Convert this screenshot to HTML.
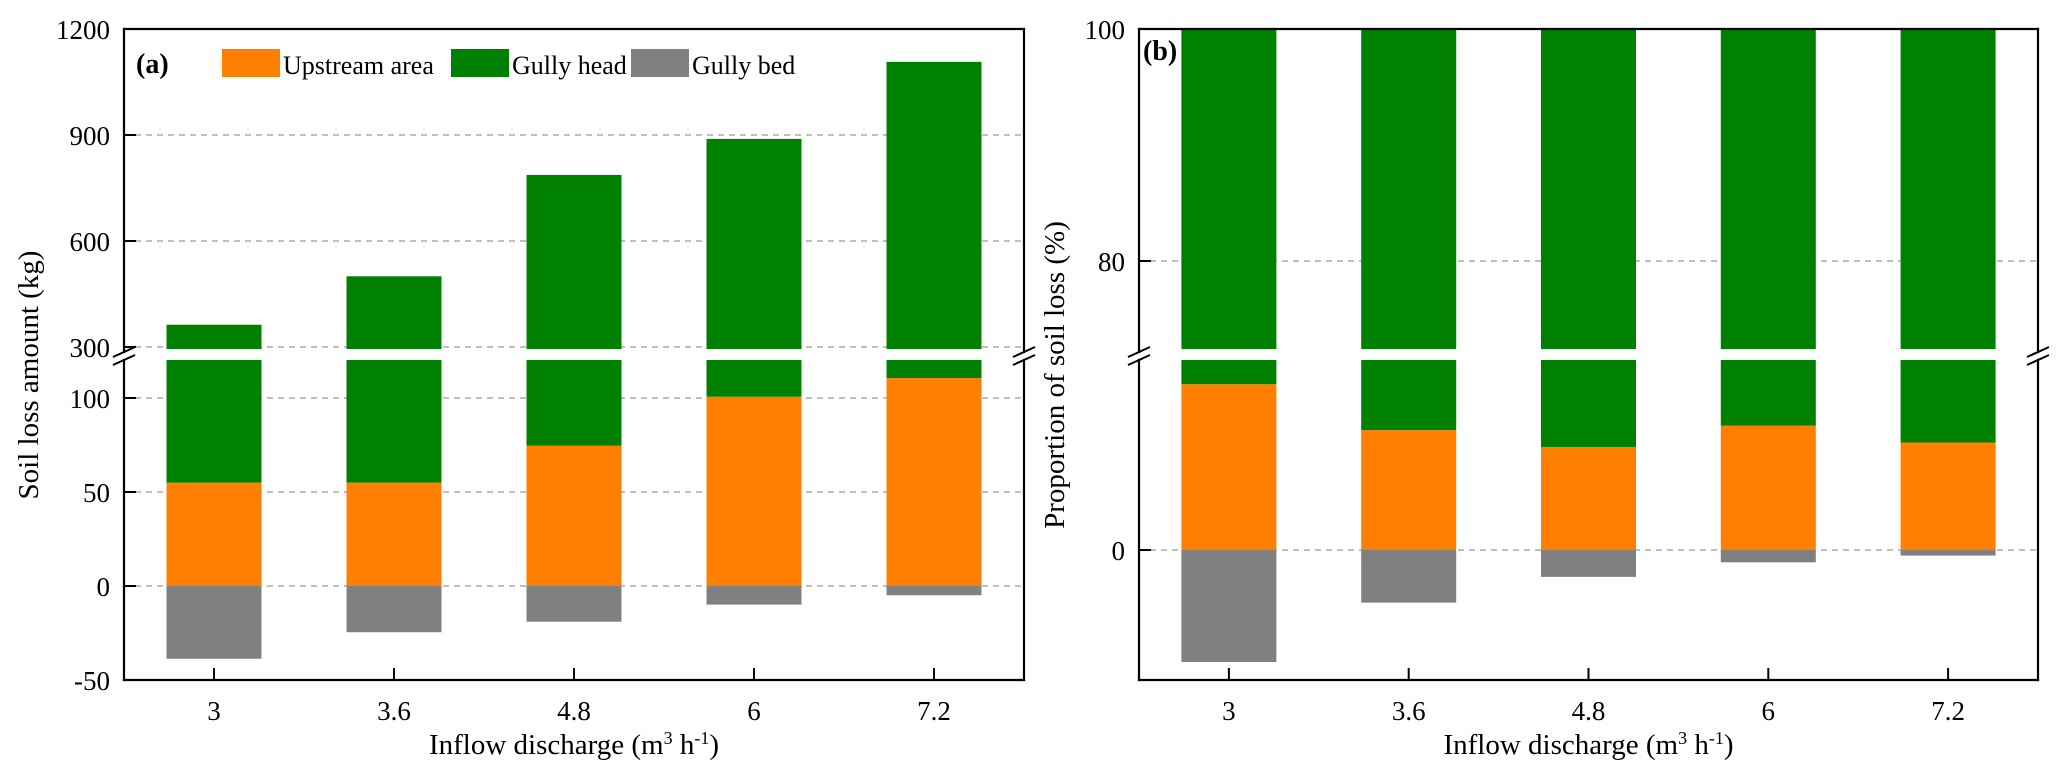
<!DOCTYPE html>
<html><head><meta charset="utf-8"><style>
body{margin:0;background:#fff;}
svg{display:block;font-family:"Liberation Serif",serif;}
</style></head><body>
<svg id="chart" width="2067" height="770" viewBox="0 0 2067 770" xmlns="http://www.w3.org/2000/svg"></svg>
<script>
const categories = ["3","3.6","4.8","6","7.2"];
const upstreamA = [55, 55, 74.6, 100.7, 110.6];
const headTotalA = [363, 500, 787, 889, 1107];
const bedA = [-38.7, -24.6, -19, -9.9, -4.9];
const upstreamB = [14.8, 10.7, 9.2, 11.1, 9.6];
const bedB = [-10, -4.7, -2.4, -1.1, -0.5];
const upperTicksA = [300, 600, 900, 1200];
const lowerTicksA = [-50, 0, 50, 100];
const upperTicksB = [80, 100];
const lowerTicksB = [0];

const NS = "http://www.w3.org/2000/svg";
const svg = document.getElementById("chart");
function mk(tag, attrs, parent){
  const e = document.createElementNS(NS, tag);
  for (const k in attrs) e.setAttribute(k, attrs[k]);
  (parent || svg).appendChild(e);
  return e;
}
const C = {up:"#FF8000", head:"#008000", bed:"#808080"};

function panel(o){
  const g = mk("g", {});
  
  
  const L=o.left, R=o.right, T=29, B=680, breakTop=349, breakBot=360;
  const band=(R-L)/categories.length, bw=95;
  const yU = v => T + (o.uMax - v)*o.uScale;
  const yL = v => o.zeroY - v*o.lScale;
  o.uGrid.forEach(v=>{const l=mk("line",{x1:L,x2:R,y1:yU(v),y2:yU(v),stroke:"#999","stroke-width":1.3,"stroke-dasharray":"6,5"},g);
     });
  o.lGrid.forEach(v=>{const l=mk("line",{x1:L,x2:R,y1:yL(v),y2:yL(v),stroke:"#999","stroke-width":1.3,"stroke-dasharray":"6,5"},g);
     });
  categories.forEach((c,i)=>{
    const x = L + band*(i+0.5) - bw/2;
    const rect=(y1,y2,col,nm)=>{ if(y2<=y1) return; const r=mk("rect",{x:x,y:y1,width:bw,height:y2-y1,fill:col},g);
       };
    rect(yL(0), yL(o.bed[i]), C.bed, 'bar-gully-bed-'+c);
    rect(Math.max(breakBot, yL(o.up[i])), yL(0), C.up, 'bar-upstream-'+c);
    rect(breakBot, yL(o.up[i]), C.head, 'bar-gully-head-lower-'+c);
    const top = o.headTop ? yU(o.headTop[i]) : T;
    rect(top, breakTop, C.head, 'bar-gully-head-upper-'+c);
    const cx = L + band*(i+0.5);
    const t=mk("line",{x1:cx,x2:cx,y1:B,y2:B-12,stroke:"#000","stroke-width":2},g);
     
    const lb=mk("text",{x:cx,y:B+40,"text-anchor":"middle","font-size":27},g); lb.textContent=c;
     
  });
  const bk1=352, bk2=360;
  [[L,T,R,T],[L,B,R,B],[L,T,L,bk1],[L,bk2,L,B],[R,T,R,bk1],[R,bk2,R,B]].forEach(a=>{
    const l=mk("line",{x1:a[0],y1:a[1],x2:a[2],y2:a[3],stroke:"#000","stroke-width":2.2,"stroke-linecap":"square"},g);
     
  });
  [L,R].forEach(ax=>{[bk1,bk2].forEach(yy=>{
    const l=mk("line",{x1:ax-11,y1:yy+5,x2:ax+11,y2:yy-5,stroke:"#000","stroke-width":2},g);
     });});
  const yt=(y,v)=>{const l=mk("line",{x1:L,x2:L+12,y1:y,y2:y,stroke:"#000","stroke-width":2},g);
     
    const t=mk("text",{x:L-14,y:y+10,"text-anchor":"end","font-size":27},g); t.textContent=v;
     };
  o.uTicks.forEach(v=>yt(yU(v),v));
  o.lTicks.forEach(v=>yt(yL(v),v));
  const pl=mk("text",{x:o.lblX,y:o.lblY,"font-size":28,"font-weight":"bold"},g); pl.textContent=o.label;
   
  const xt=mk("text",{x:(L+R)/2,y:754,"text-anchor":"middle","font-size":29},g);
  xt.innerHTML='Inflow discharge (m<tspan dy="-10" font-size="18">3</tspan><tspan dy="10"> h</tspan><tspan dy="-10" font-size="18">-1</tspan><tspan dy="10">)</tspan>';
   
  const ytl=mk("text",{x:0,y:0,"text-anchor":"middle","font-size":29,transform:`translate(${o.ytX},375) rotate(-90)`},g);
  ytl.textContent=o.ytitle;
   
}

panel({name:'panel-a-soil-loss-amount',left:124,right:1024,uMax:1200,uScale:0.3533,zeroY:586,lScale:1.88,
  up:upstreamA,bed:bedA,headTop:headTotalA,uGrid:[300,600,900],lGrid:[100,50,0],uTicks:upperTicksA,lTicks:lowerTicksA,
  label:'(a)',lblX:136,lblY:73,ytitle:'Soil loss amount (kg)',ytX:38});
panel({name:'panel-b-proportion',left:1139,right:2038,uMax:100,uScale:11.6,zeroY:550,lScale:11.2,
  up:upstreamB,bed:bedB,headTop:null,uGrid:[80],lGrid:[0],uTicks:upperTicksB,lTicks:lowerTicksB,
  label:'(b)',lblX:1143,lblY:60,ytitle:'Proportion of soil loss (%)',ytX:1064});

const lg = mk("g",{});


[["Upstream area",C.up,222],["Gully head",C.head,451],["Gully bed",C.bed,631]].forEach(e=>{
  const r=mk("rect",{x:e[2],y:49,width:58,height:28,fill:e[1]},lg);
   
  const t=mk("text",{x:e[2]+61,y:74,"font-size":26},lg); t.textContent=e[0];
   
});
</script>
</body></html>
